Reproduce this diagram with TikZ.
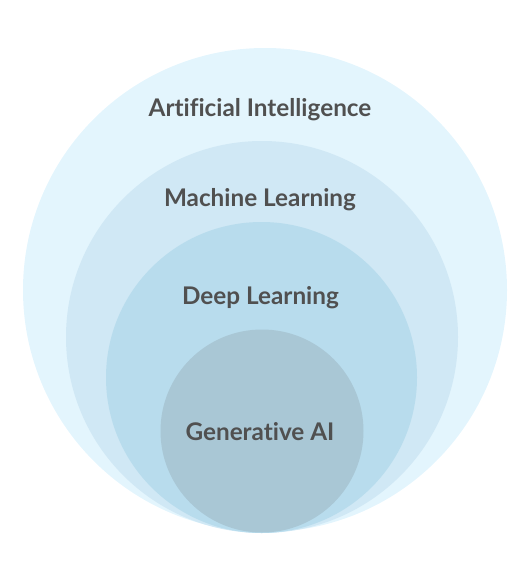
\documentclass[tikz,border=0pt]{standalone}
\usepackage{fontspec}
\setmainfont{Lato}[Ligatures=NoCommon]
\begin{document}
\begin{tikzpicture}[x=1pt,y=-1pt]
\definecolor{cAI}{HTML}{E3F5FD}
\definecolor{cML}{HTML}{D0E8F5}
\definecolor{cDL}{HTML}{B8DCED}
\definecolor{cGA}{HTML}{A9C7D5}
\definecolor{txt}{HTML}{505050}
\tikzset{
  disc/.style={circle, inner sep=0pt, draw=none},
  lbl/.style={anchor=base, text=txt, font=\fontsize{24.3}{29}\selectfont\bfseries, inner sep=0pt}
}
\useasboundingbox (0,0) rectangle (526,575);
\node[disc, fill=cAI, minimum size=484pt] (ai) at (265,290) {};
\node[disc, fill=cML, minimum size=392pt] (ml) at (262,337) {};
\node[disc, fill=cDL, minimum size=311pt] (dl) at (261.5,377.5) {};
\node[disc, fill=cGA, minimum size=203pt] (ga) at (262,431) {};
\node[lbl] (tai) at (260,117) {Artificial Intelligence};
\node[lbl] (tml) at (260,206) {Machine Learning};
\node[lbl] (tdl) at (260.5,304) {Deep Learning};
\node[lbl] (tga) at (260,440) {Generative AI};
\end{tikzpicture}
\end{document}
